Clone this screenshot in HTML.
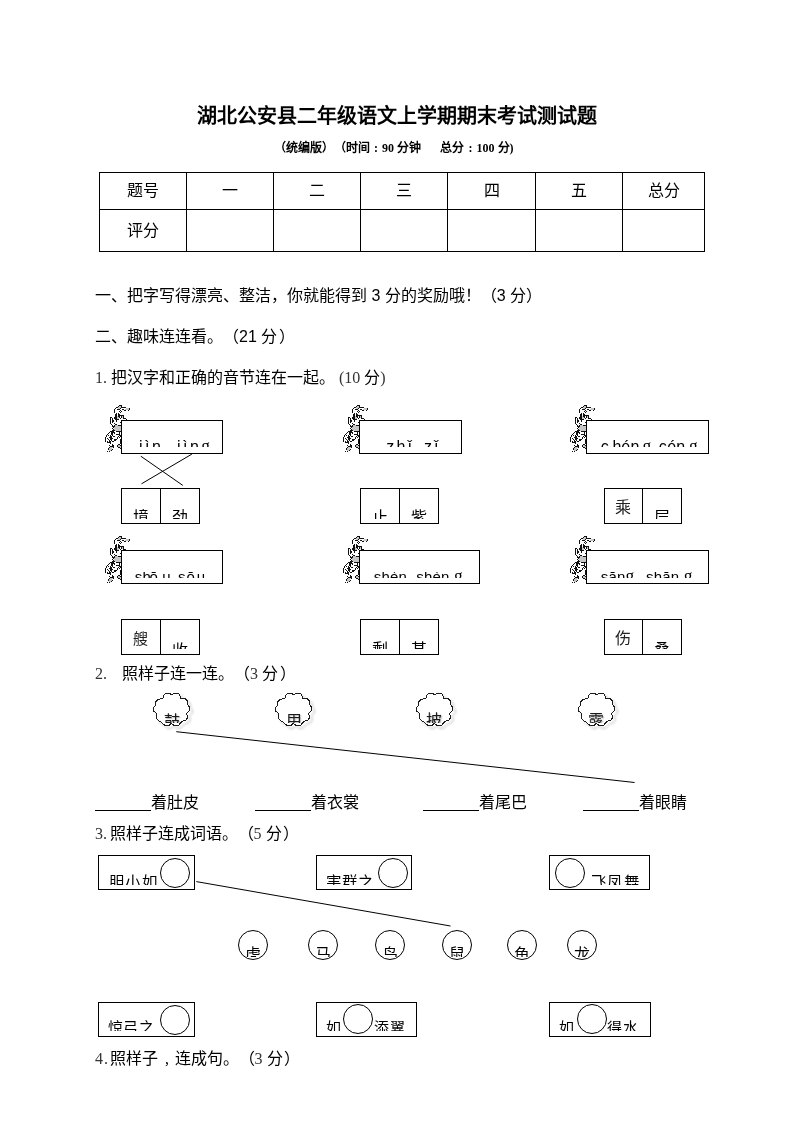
<!DOCTYPE html>
<html lang="zh-CN">
<head>
<meta charset="utf-8">
<title>湖北公安县二年级语文上学期期末考试测试题</title>
<style>
html,body{margin:0;padding:0;background:#fff;}
body{width:793px;height:1122px;position:relative;overflow:hidden;color:#000;font-family:"Liberation Sans",sans-serif;}
#pg{position:absolute;left:0;top:0;width:793px;height:1122px;will-change:transform;}
.t{position:absolute;white-space:pre;line-height:20px;font-size:16px;text-spacing-trim:space-all;font-kerning:none;}
.sf{font-family:"Liberation Serif",serif;}
.title{left:0;width:793px;top:104px;text-align:center;font-size:20px;font-weight:bold;line-height:24px;}
.sub{left:274px;top:140px;font-size:12px;word-spacing:0.2px;font-weight:bold;line-height:16px;font-family:"Liberation Serif","Liberation Sans",sans-serif;}
.col{display:inline-block;width:12px;text-align:center;}
table.score{position:absolute;left:99px;top:172px;border-collapse:collapse;table-layout:fixed;}
table.score td{border:1px solid #000;text-align:center;vertical-align:middle;font-size:16px;padding:0;line-height:20px;}
.bx{position:absolute;border:1px solid #000;background:#fff;box-sizing:border-box;}
.clip{position:absolute;left:0;right:0;overflow:hidden;}
.pb .clip{top:19px;height:6.6px;}
.pb .w{position:absolute;top:-1.2px;font-size:16px;line-height:16px;letter-spacing:2.4px;white-space:pre;}
.pb.r2 .clip{top:21px;height:6.3px;}
.pb.r2 .w{top:-2.7px;letter-spacing:0.2px;font-size:15px;}
.gg{font-size:17.5px;line-height:0;position:relative;top:-1px;}
.cell{position:absolute;top:0;height:36px;border:1px solid #000;box-sizing:border-box;background:#fff;}
.cell .clip{top:0;height:30px;}
.cell .c{position:absolute;left:0;right:0;top:21px;text-align:center;font-size:16px;line-height:16px;}
.cell.r2 .clip{height:28.6px;}
.cell.r2 .c{top:21.8px;}
.cell .gt{position:absolute;left:-1px;right:0;top:10.5px;text-align:center;font-size:16px;line-height:16px;color:#222;font-family:"Liberation Sans","Noto Sans CJK SC",sans-serif;}
svg.ov{position:absolute;left:0;top:0;overflow:visible;}
.ul{position:absolute;height:1px;background:#000;width:56px;top:810px;}
.wb .clip{top:0;height:29px;}
.wb .c{position:absolute;top:18.6px;font-size:15.5px;line-height:16px;letter-spacing:0.3px;white-space:pre;}
.wb.b2 .clip{height:28.2px;}
.wb.b2 .c{top:17px;font-size:15px;letter-spacing:0.5px;}
.ring{position:absolute;width:30px;height:30px;border:1px solid #000;border-radius:50%;box-sizing:border-box;background:#fff;}
.ring .clip{top:0;height:26.3px;left:-4px;right:-4px;}
.ring .c{position:absolute;left:0;right:0;top:16.5px;text-align:center;font-size:16px;line-height:16px;}
.cloud{position:absolute;width:40px;height:36px;}
.cloud .clip{top:0;height:31px;}
.cloud .c{position:absolute;left:0;width:38px;top:21.8px;text-align:center;font-size:16px;line-height:16px;text-shadow:1px 1px 1.2px rgba(0,0,0,.3);color:#1a1a1a;}
.lt{color:#333;}
</style>
</head>
<body>
<div id="pg">
<div class="t title">湖北公安县二年级语文上学期期末考试测试题</div>
<div class="t sub">（统编版）（时间<span class="col">:</span>90 分钟      总分<span class="col">:</span>100 分)</div>
<table class="score">
<colgroup><col style="width:87px"><col style="width:87px"><col style="width:87px"><col style="width:87px"><col style="width:88px"><col style="width:87px"><col style="width:82px"></colgroup>
<tr style="height:37px"><td>题号</td><td>一</td><td>二</td><td>三</td><td>四</td><td>五</td><td>总分</td></tr>
<tr style="height:42px"><td>评分</td><td></td><td></td><td></td><td></td><td></td><td></td></tr>
</table>
<div class="t" style="left:95px;top:286px;">一、把字写得漂亮、整洁，你就能得到 3 分的奖励哦！（3 分）</div>
<div class="t" style="left:95px;top:326.5px;">二、趣味连连看。（21 分<span style="margin-left:1.5px">）</span></div>
<div class="t" style="left:95px;top:368px;"><span class="sf lt">1. </span>把汉字和正确的音节连在一起。<span class="sf lt"> (10 </span>分<span class="sf lt">)</span></div>
<svg class="ov" width="793" height="1122" viewBox="0 0 793 1122"><defs><symbol id="fig" overflow="visible"><g shape-rendering="crispEdges"><path fill="#c6c6c6" d="M15,2h2v1h-2zM14,3h3v1h-3zM14,4h2v1h-2zM22,4h3v1h-3zM21,5h4v1h-4zM13,12h1v1h-1zM18,12h1v1h-1zM13,13h2v1h-2zM18,13h1v1h-1zM13,14h2v1h-2zM11,21h3v1h-3zM11,22h6v1h-6zM10,23h7v1h-7zM10,24h7v1h-7zM10,25h7v1h-7zM11,26h6v1h-6zM14,41h2v1h-2zM14,42h3v1h-3zM6,43h3v1h-3zM16,43h1v1h-1zM5,44h3v1h-3zM5,45h3v1h-3zM5,46h2v1h-2z"/><path fill="#111" d="M15,1h3v1h-3zM14,2h1v1h-1zM17,2h1v1h-1zM12,3h2v1h-2zM17,3h5v1h-5zM11,4h1v1h-1zM16,4h1v1h-1zM25,4h1v1h-1zM10,5h1v1h-1zM13,5h3v1h-3zM18,5h2v1h-2zM25,5h1v1h-1zM10,6h1v1h-1zM16,6h1v1h-1zM20,6h2v1h-2zM24,6h1v1h-1zM10,7h1v1h-1zM15,7h1v1h-1zM17,7h1v1h-1zM10,8h1v1h-1zM16,8h1v1h-1zM12,9h1v1h-1zM14,9h1v1h-1zM11,10h2v1h-2zM14,10h2v1h-2zM11,11h2v1h-2zM14,11h2v1h-2zM16,11h4v1h-4zM11,12h2v1h-2zM14,12h2v1h-2zM17,12h1v1h-1zM19,12h1v1h-1zM6,13h2v1h-2zM10,13h3v1h-3zM15,13h1v1h-1zM17,13h1v1h-1zM19,13h1v1h-1zM6,14h1v1h-1zM8,14h1v1h-1zM10,14h1v1h-1zM11,14h2v1h-2zM16,14h1v1h-1zM19,14h3v1h-3zM6,15h1v1h-1zM8,15h1v1h-1zM11,15h4v1h-4zM22,15h1v1h-1zM6,16h1v1h-1zM8,16h2v1h-2zM12,16h1v1h-1zM6,17h1v1h-1zM8,17h2v1h-2zM12,17h1v1h-1zM6,18h1v1h-1zM8,18h1v1h-1zM16,18h1v1h-1zM6,19h1v1h-1zM10,19h1v1h-1zM7,20h1v1h-1zM11,20h2v1h-2zM8,21h1v1h-1zM10,21h1v1h-1zM14,21h3v1h-3zM8,22h2v1h-2zM10,22h1v1h-1zM9,23h1v1h-1zM8,24h1v1h-1zM9,25h1v1h-1zM8,26h3v1h-3zM6,27h4v1h-4zM12,27h5v1h-5zM5,28h1v1h-1zM7,28h4v1h-4zM15,28h1v1h-1zM4,29h1v1h-1zM7,29h2v1h-2zM10,29h1v1h-1zM15,29h1v1h-1zM3,30h1v1h-1zM7,30h2v1h-2zM12,30h4v1h-4zM2,31h1v1h-1zM4,31h1v1h-1zM6,31h1v1h-1zM8,31h1v1h-1zM15,31h2v1h-2zM2,32h1v1h-1zM6,32h2v1h-2zM9,32h2v1h-2zM14,32h1v1h-1zM16,32h1v1h-1zM1,33h1v1h-1zM5,33h3v1h-3zM13,33h1v1h-1zM15,33h1v1h-1zM1,34h1v1h-1zM3,34h1v1h-1zM6,34h3v1h-3zM13,34h1v1h-1zM1,35h1v1h-1zM4,35h1v1h-1zM6,35h2v1h-2zM10,35h3v1h-3zM16,35h1v1h-1zM1,36h1v1h-1zM5,36h1v1h-1zM7,36h1v1h-1zM10,36h2v1h-2zM16,36h1v1h-1zM1,37h1v1h-1zM3,37h1v1h-1zM5,37h2v1h-2zM8,37h2v1h-2zM16,37h1v1h-1zM3,38h4v1h-4zM16,38h1v1h-1zM6,39h1v1h-1zM16,39h1v1h-1zM8,40h1v1h-1zM14,40h2v1h-2zM5,41h1v1h-1zM8,41h2v1h-2zM13,41h1v1h-1zM16,41h1v1h-1zM6,42h4v1h-4zM13,42h1v1h-1zM5,43h1v1h-1zM9,43h1v1h-1zM14,43h2v1h-2zM4,44h1v1h-1zM16,44h1v1h-1zM4,45h1v1h-1zM8,45h1v1h-1zM7,46h1v1h-1zM3,47h1v1h-1zM5,47h1v1h-1z"/></g></symbol><symbol id="cloud" overflow="visible"><path d="M9.9,6.0 L10.7,2.8 L12.8,1.1 L17.0,1.1 L18.4,2.5 L20.5,1.1 L25.5,1.1 L26.9,2.8 L27.6,5.7 L32.5,6.4 L34.3,8.1 L35.0,12.4 L36.8,15.2 L36.8,18.0 L33.6,21.2 L34.7,24.4 L33.3,27.5 L29.0,29.0 L25.5,32.8 L21.2,33.2 L18.4,30.7 L15.6,33.2 L12.1,33.2 L8.5,30.0 L4.3,27.2 L3.2,23.7 L3.9,21.2 L0.8,18.7 L0.1,15.9 L2.2,13.1 L2.5,9.5 L5.4,6.7 Z" fill="#fff" stroke="#1c1c1c" stroke-width="1" stroke-linejoin="round"/></symbol><filter id="sh" x="-20%" y="-20%" width="150%" height="150%"><feGaussianBlur stdDeviation="0.9"/></filter></defs><use href="#fig" x="104" y="404"/><use href="#fig" x="342" y="404"/><use href="#fig" x="569" y="404"/><use href="#fig" x="104" y="535"/><use href="#fig" x="342" y="535"/><use href="#fig" x="569" y="535"/><g stroke="#000" stroke-width="1" fill="none"><line x1="140.8" y1="456.2" x2="182.8" y2="485.4"/><line x1="191.9" y1="454.1" x2="141.5" y2="483.8"/><line x1="176.3" y1="731.7" x2="634.6" y2="782.5"/><line x1="196.3" y1="881.6" x2="450.5" y2="926"/></g><use href="#cloud" x="155.5" y="695.0" filter="url(#sh)" style="opacity:.45" /><use href="#cloud" x="153" y="692.5" shape-rendering="crispEdges"/><use href="#cloud" x="277.5" y="695.0" filter="url(#sh)" style="opacity:.45" /><use href="#cloud" x="275" y="692.5" shape-rendering="crispEdges"/><use href="#cloud" x="418.5" y="695.0" filter="url(#sh)" style="opacity:.45" /><use href="#cloud" x="416" y="692.5" shape-rendering="crispEdges"/><use href="#cloud" x="580.5" y="695.0" filter="url(#sh)" style="opacity:.45" /><use href="#cloud" x="578" y="692.5" shape-rendering="crispEdges"/></svg>
<div class="bx pb r1" style="left:121px;top:420px;width:102px;height:34px"><div class="clip"><span class="w" style="left:17.1px">jìn</span><span class="w" style="left:55.1px">jìn<span class="sf gg">g</span></span></div></div>
<div class="bx pb r1" style="left:359px;top:420px;width:103px;height:34px"><div class="clip"><span class="w" style="left:26.2px">zhǐ</span><span class="w" style="left:64.1px">zǐ</span></div></div>
<div class="bx pb r1" style="left:586px;top:420px;width:123px;height:34px"><div class="clip"><span class="w" style="left:13.8px">c</span><span class="w" style="left:25.6px">h</span><span class="w" style="left:34.2px">é</span><span class="w" style="left:43.4px">n</span><span class="w" style="left:55.6px"><span class="sf gg">g</span></span><span class="w" style="left:71.8px">c</span><span class="w" style="left:80.2px">é</span><span class="w" style="left:89.3px">n</span><span class="w" style="left:101.9px"><span class="sf gg">g</span></span></div></div>
<div class="bx pb r2" style="left:121px;top:550px;width:102px;height:34px"><div class="clip"><span class="w" style="left:12.8px">sh</span><span class="w" style="left:27.5px">ō</span><span class="w" style="left:40.2px">u</span><span class="w" style="left:56.1px">s</span><span class="w" style="left:64.5px">ō</span><span class="w" style="left:74.7px">u</span></div></div>
<div class="bx pb r2" style="left:359px;top:550px;width:121px;height:34px"><div class="clip"><span class="w" style="left:13.8px">shèn</span><span class="w" style="left:56.3px">shèn</span><span class="w" style="left:94.1px"><span class="sf gg">g</span></span></div></div>
<div class="bx pb r2" style="left:586px;top:550px;width:123px;height:34px"><div class="clip"><span class="w" style="left:13.8px">sān<span class="sf gg">g</span></span><span class="w" style="left:59.0px">shān</span><span class="w" style="left:96.8px"><span class="sf gg">g</span></span></div></div>
<div style="position:absolute;left:121px;top:488px;width:79px;height:36px"><div class="cell" style="left:0px;width:40px"><div class="clip"><span class="c">境</span></div></div><div class="cell" style="left:39px;width:40px"><div class="clip"><span class="c">劲</span></div></div></div>
<div style="position:absolute;left:360px;top:488px;width:79px;height:36px"><div class="cell" style="left:0px;width:40px"><div class="clip"><span class="c">止</span></div></div><div class="cell" style="left:39px;width:40px"><div class="clip"><span class="c">紫</span></div></div></div>
<div style="position:absolute;left:604px;top:488px;width:78px;height:36px"><div class="cell" style="left:0px;width:39px"><span class="gt">乘</span></div><div class="cell" style="left:38px;width:40px"><div class="clip"><span class="c">层</span></div></div></div>
<div style="position:absolute;left:121px;top:619px;width:79px;height:36px"><div class="cell" style="left:0px;width:40px"><span class="gt" style="font-size:15px;line-height:15px;top:11.3px">艘</span></div><div class="cell r2" style="left:39px;width:40px"><div class="clip"><span class="c" style="top:23.2px">收</span></div></div></div>
<div style="position:absolute;left:360px;top:619px;width:79px;height:36px"><div class="cell r2" style="left:0px;width:40px"><div class="clip"><span class="c">剩</span></div></div><div class="cell r2" style="left:39px;width:40px"><div class="clip"><span class="c">甚</span></div></div></div>
<div style="position:absolute;left:604px;top:619px;width:78px;height:36px"><div class="cell" style="left:0px;width:39px"><span class="gt">伤</span></div><div class="cell r2" style="left:38px;width:40px"><div class="clip"><span class="c">桑</span></div></div></div>
<div class="t" style="left:95px;top:663.5px;"><span class="sf lt" style="display:inline-block;width:27px">2.</span>照样子连一连。（<span class="sf lt" style="display:inline-block;width:8px;text-align:center">3</span> 分<span style="margin-left:1.5px">）</span></div>
<div class="cloud" style="left:153px;top:692px"><div class="clip"><span class="c">鼓</span></div></div>
<div class="cloud" style="left:275px;top:692px"><div class="clip"><span class="c">甩</span></div></div>
<div class="cloud" style="left:416px;top:692px"><div class="clip"><span class="c" style="left:-1.5px;top:21px">披</span></div></div>
<div class="cloud" style="left:578px;top:692px"><div class="clip"><span class="c" style="left:-1.5px;top:21px">露</span></div></div>
<div class="ul" style="left:95px"></div><div class="t" style="left:151px;top:793px">着肚皮</div>
<div class="ul" style="left:255px"></div><div class="t" style="left:311px;top:793px">着衣裳</div>
<div class="ul" style="left:423px"></div><div class="t" style="left:479px;top:793px">着尾巴</div>
<div class="ul" style="left:583px"></div><div class="t" style="left:639px;top:793px">着眼睛</div>
<div class="t" style="left:95px;top:824.4px;"><span class="sf lt" style="display:inline-block;width:14.5px">3.</span>照样子连成词语。（<span class="sf lt" style="display:inline-block;width:8px;text-align:center">5</span> 分<span style="margin-left:1.5px">）</span></div>
<div class="bx wb" style="left:98px;top:855px;width:97px;height:35px"><div class="clip"><span class="c" style="left:10.0px">胆小如</span></div><div class="ring" style="left:61.2px;top:2.1px"></div></div>
<div class="bx wb" style="left:316px;top:855px;width:96px;height:35px"><div class="clip"><span class="c" style="left:8.8px">害群之</span></div><div class="ring" style="left:61.1px;top:2.1px"></div></div>
<div class="bx wb" style="left:549px;top:855px;width:101px;height:35px"><div class="clip"><span class="c" style="left:41.1px">飞凤舞</span></div><div class="ring" style="left:5.4px;top:2.1px"></div></div>
<div class="bx wb b2" style="left:98px;top:1002px;width:97px;height:35px"><div class="clip"><span class="c" style="left:8.6px">惊弓之</span></div><div class="ring" style="left:61.2px;top:1.8px"></div></div>
<div class="bx wb b2" style="left:316px;top:1002px;width:101px;height:35px"><div class="clip"><span class="c" style="left:8.8px">如</span><span class="c" style="left:57.2px">添翼</span></div><div class="ring" style="left:26.2px;top:1.0px"></div></div>
<div class="bx wb b2" style="left:549px;top:1002px;width:102px;height:35px"><div class="clip"><span class="c" style="left:9.0px">如</span><span class="c" style="left:57.1px">得水</span></div><div class="ring" style="left:26.8px;top:1.0px"></div></div>
<div class="ring" style="left:238.1px;top:929.7px"><div class="clip"><span class="c">虎</span></div></div>
<div class="ring" style="left:308.1px;top:929.7px"><div class="clip"><span class="c">马</span></div></div>
<div class="ring" style="left:375.2px;top:929.7px"><div class="clip"><span class="c">鸟</span></div></div>
<div class="ring" style="left:441.9px;top:929.7px"><div class="clip"><span class="c">鼠</span></div></div>
<div class="ring" style="left:506.8px;top:929.7px"><div class="clip"><span class="c">鱼</span></div></div>
<div class="ring" style="left:566.6px;top:929.7px"><div class="clip"><span class="c">龙</span></div></div>
<div class="t" style="left:95px;top:1049.2px;"><span class="sf lt" style="display:inline-block;width:14.5px;letter-spacing:1px">4.</span>照样子<span class="sf" style="display:inline-block;width:15px;padding-left:2px;text-align:center">,</span>连成句。（<span class="sf lt" style="display:inline-block;width:8px;text-align:center">3</span> 分<span style="margin-left:1.5px">）</span></div>
</div>
</body>
</html>
